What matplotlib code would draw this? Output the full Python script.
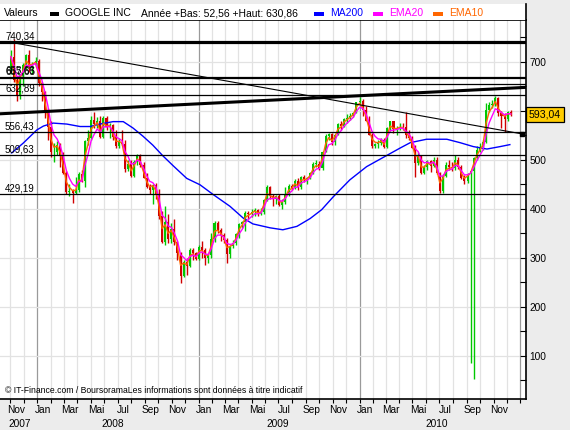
import numpy as np
import pandas as pd
import matplotlib
matplotlib.use("Agg")
import matplotlib.pyplot as plt
import matplotlib.dates as mdates
import matplotlib.transforms as mtrans
from matplotlib.patches import Rectangle
from matplotlib.lines import Line2D

plt.rcParams['font.family'] = ['Liberation Sans', 'DejaVu Sans']

# ---------------- data (weekly bars) ----------------
first_week = "2007-11-02"
opens = [680, 711, 664, 633, 676, 693, 714, 689, 696, 702, 657, 638, 600, 566, 515, 516, 530, 507, 472, 434,
         437, 433, 438, 471, 457, 538, 545, 582, 573, 580, 546, 585, 566, 571, 546, 528, 537, 533, 482, 491,
         467, 495, 510, 490, 463, 444, 438, 449, 431, 386, 332, 372, 339, 359, 331, 310, 262, 292, 283, 315,
         310, 298, 321, 315, 300, 305, 338, 371, 357, 346, 337, 308, 324, 330, 348, 369, 372, 392, 389, 393,
         398, 390, 393, 418, 444, 425, 420, 425, 408, 414, 430, 446, 443, 457, 444, 465, 460, 462, 472, 491,
         492, 484, 516, 549, 553, 536, 551, 573, 569, 584, 585, 590, 596, 618, 620, 602, 580, 551, 529, 532,
         534, 541, 527, 565, 579, 562, 563, 568, 566, 550, 544, 525, 493, 507, 472, 485, 498, 488, 500, 472,
         436, 467, 490, 485, 484, 500, 486, 462, 456, 470, 477, 503, 520, 526, 537, 601, 612, 613, 626, 596,
         590, 584, 598]
highs = [725, 747, 668, 676, 697, 716, 724, 700, 710, 705, 660, 640, 605, 580, 535, 538, 535, 515, 478, 450,
         440, 465, 475, 480, 540, 560, 590, 598, 588, 590, 590, 590, 575, 574, 560, 545, 560, 540, 500, 500,
         500, 512, 512, 495, 472, 450, 450, 452, 440, 395, 405, 390, 370, 380, 335, 312, 295, 300, 320, 320,
         312, 325, 335, 320, 310, 350, 375, 375, 360, 350, 340, 325, 336, 350, 370, 375, 395, 395, 400, 402,
         400, 402, 420, 449, 447, 430, 428, 430, 420, 445, 450, 450, 460, 462, 466, 468, 465, 476, 495, 500,
         498, 518, 552, 555, 555, 552, 576, 580, 585, 593, 595, 598, 618, 629, 625, 610, 590, 555, 535, 541,
         545, 545, 566, 580, 580, 570, 575, 575, 597, 560, 548, 530, 515, 510, 490, 500, 500, 505, 505, 475,
         470, 495, 500, 495, 510, 505, 490, 468, 472, 478, 505, 528, 535, 540, 617, 618, 622, 631, 628, 600,
         596, 600, 602]
lows = [675, 660, 620, 625, 650, 685, 680, 675, 690, 650, 620, 585, 540, 505, 495, 510, 485, 470, 430, 425,
        412, 430, 435, 455, 445, 530, 540, 565, 565, 545, 545, 560, 545, 540, 525, 525, 530, 475, 478, 465,
        465, 490, 485, 462, 442, 430, 410, 420, 380, 330, 325, 330, 330, 325, 295, 248, 260, 265, 280, 295,
        295, 296, 300, 285, 290, 300, 333, 350, 335, 330, 290, 300, 320, 325, 340, 360, 355, 380, 383, 385,
        385, 387, 390, 415, 420, 405, 410, 405, 400, 410, 425, 438, 440, 438, 440, 455, 450, 460, 470, 485,
        480, 480, 515, 540, 530, 530, 550, 560, 568, 575, 582, 588, 596, 615, 590, 580, 550, 525, 525, 525,
        530, 525, 525, 558, 555, 550, 560, 560, 545, 540, 525, 465, 490, 470, 470, 480, 475, 485, 470, 433,
        433, 465, 480, 478, 480, 482, 460, 450, 453, 84, 53, 500, 515, 520, 535, 598, 605, 610, 590, 565,
        557, 580, 590]
closes = [711, 664, 633, 676, 693, 714, 689, 696, 702, 657, 638, 600, 566, 515, 516, 530, 507, 472, 434, 437,
          433, 438, 471, 457, 538, 545, 582, 573, 580, 546, 585, 566, 571, 546, 528, 537, 533, 482, 491, 467,
          495, 510, 490, 463, 444, 438, 449, 431, 386, 332, 372, 339, 359, 331, 310, 262, 292, 283, 315, 310,
          298, 321, 315, 300, 305, 338, 371, 357, 346, 337, 308, 324, 330, 348, 369, 372, 392, 389, 393, 398,
          390, 393, 418, 444, 425, 420, 425, 408, 414, 430, 446, 443, 457, 444, 465, 460, 462, 472, 491, 492,
          484, 516, 549, 553, 536, 551, 573, 569, 584, 585, 590, 596, 618, 620, 602, 580, 551, 529, 532, 534,
          541, 527, 565, 579, 562, 563, 568, 566, 550, 544, 525, 493, 507, 472, 485, 498, 488, 500, 472, 436,
          467, 490, 485, 484, 500, 486, 462, 456, 470, 477, 503, 520, 526, 537, 601, 612, 613, 626, 596, 590,
          584, 598, 593.04]

ma200_dates = ["2007-11-04", "2007-11-30", "2007-12-31", "2008-01-15", "2008-02-06", "2008-03-08",
               "2008-04-07", "2008-04-30", "2008-05-22", "2008-06-21", "2008-07-14", "2008-08-05",
               "2008-08-28", "2008-09-19", "2008-10-12", "2008-11-04", "2008-12-05", "2009-01-04",
               "2009-02-03", "2009-03-13", "2009-04-12", "2009-05-04", "2009-06-12", "2009-07-11",
               "2009-08-12", "2009-09-11", "2009-10-07", "2009-11-03", "2009-12-10", "2010-01-17",
               "2010-02-24", "2010-04-03", "2010-04-26", "2010-06-02", "2010-07-18", "2010-08-17",
               "2010-09-16", "2010-10-17", "2010-11-16", "2010-12-08"]
ma200_values = [514, 534, 561, 569, 575, 573, 568, 568, 573, 578, 578, 565, 548, 530, 508, 488, 462, 449,
                429, 405, 381, 369, 361, 357, 364, 380, 398, 425, 459, 486, 505, 524, 535, 542, 542, 535,
                527, 522, 527, 531]

level_values = [740.34, 667.6, 655.6, 632.89, 556.43, 509.63, 429.19]
level_labels = ["740,34", "667,65", "655,63", "632,89", "556,43", "509,63", "429,19"]
level_widths = [2.3, 1.6, 0.9, 0.9, 0.9, 0.9, 0.9]

trend_up_dates = ["2007-10-08", "2011-01-13"]
trend_up_values = [594, 648]
trend_down_dates = ["2007-11-02", "2011-01-04"]
trend_down_values = [740, 553]

y_ticks = [100, 200, 300, 400, 500, 600, 700]
y_tick_labels = ["100", "200", "300", "400", "500", "", "700"]   # 600 hidden behind the price box
month_names = ["Nov", "Jan", "Mar", "Mai", "Jul", "Sep"]
year_labels = ["2007", "2008", "2009", "2010"]
year_label_dates = ["2007-11-22", "2008-06-21", "2009-06-30", "2010-06-26"]

# ---------------- figure ----------------
W, H = 570, 430
fig = plt.figure(figsize=(W / 100, H / 100), dpi=100, facecolor='#ECECEC')

def fx(px):
    return px / W

def fy(py):
    return 1 - py / H

top_px, bot_px, right_px = 19.5, 398.5, 526
ax = fig.add_axes([0, fy(bot_px), right_px / W, (bot_px - top_px) / H])
ax.set_facecolor('white')

# white legend strip
fig.patches.append(Rectangle((0, fy(top_px)), right_px / W, (top_px - 3.5) / H,
                             transform=fig.transFigure, facecolor='white', edgecolor='none', zorder=0))
fig.lines.append(Line2D([fx(right_px), fx(right_px)], [fy(4), fy(top_px)],
                        transform=fig.transFigure, color='black', lw=1.2))

dates = pd.date_range(first_week, periods=len(closes), freq='7D')
xd = mdates.date2num(dates)
o = np.array(opens, float); h = np.array(highs, float)
l = np.array(lows, float); c = np.array(closes, float)

ax.set_xlim(mdates.date2num(pd.Timestamp("2007-10-08 10:00")),
            mdates.date2num(pd.Timestamp("2011-01-13 14:00")))
ax.set_ylim(12.2, 786.7)

# grid
month_starts = pd.date_range("2007-11-01", "2011-01-01", freq='MS')
for m in month_starts:
    col = '#9A9A9A' if m.month == 1 else '#E2E2E2'
    ax.axvline(mdates.date2num(m), color=col, lw=0.9, zorder=0)
for v in y_ticks:
    ax.axhline(v, color='#E2E2E2', lw=0.9, zorder=0)

# candles
up = c >= o
cols = np.where(up, '#00C800', '#D00000')
ax.vlines(xd, l, h, colors=cols, lw=1.0, zorder=2)
body_h = np.maximum(np.abs(c - o), 1.5)
ax.bar(xd, body_h, bottom=np.minimum(o, c), width=4.6, color=cols, linewidth=0, zorder=2)

# indicators
ma_x = mdates.date2num(pd.to_datetime(ma200_dates))
ax.plot(ma_x, ma200_values, color='#0000FF', lw=1.0, zorder=3)
ema10 = pd.Series(c).ewm(span=2.2, adjust=False).mean()
ema20 = pd.Series(c).ewm(span=4.1, adjust=False).mean()
ax.plot(xd, ema10, color='#FF6600', lw=1.0, zorder=3)
ax.plot(xd, ema20, color='#FF00FF', lw=1.0, zorder=3)

# support / resistance levels
lab_trans = mtrans.offset_copy(ax.get_yaxis_transform(), fig=fig, y=2.2, units='points')
for v, lw in zip(level_values, level_widths):
    ax.axhline(v, color='black', lw=lw, zorder=4)
for v, lab in zip(level_values, level_labels):
    yv = v
    if lab == "655,63":
        yv = level_values[1] + 1.5
    ax.text(5 / right_px, yv, lab, transform=lab_trans, fontsize=7.0, ha='left', va='baseline', zorder=5)

# trend lines
ax.plot(mdates.date2num(pd.to_datetime(trend_up_dates)), trend_up_values, color='black', lw=2.2, zorder=4)
ax.plot(mdates.date2num(pd.to_datetime(trend_down_dates)), trend_down_values, color='black', lw=0.8, zorder=4)
ax.plot(mdates.date2num(pd.to_datetime(trend_down_dates[-1:])), trend_down_values[-1:], 's',
        color='black', ms=2.2, zorder=4)

# spines
for s in ['top', 'right', 'bottom']:
    ax.spines[s].set_color('black')
    ax.spines[s].set_linewidth(1.2)
ax.spines['left'].set_visible(False)

# y axis (right)
ax.yaxis.tick_right()
ax.set_yticks(y_ticks)
ax.set_yticklabels(y_tick_labels)
ax.set_yticks(list(range(50, 800, 50)), minor=True)
ax.tick_params(axis='y', which='both', direction='in', length=4, width=0.8, pad=2.5,
               labelsize=7.3, left=False, right=True)

# x axis
ax.set_xticks(mdates.date2num(month_starts))
ax.set_xticklabels([])
lab_months = pd.date_range("2007-11-01", "2010-11-01", freq='2MS') + pd.Timedelta(days=13)
ax.set_xticks(mdates.date2num(lab_months), minor=True)
ax.set_xticklabels([month_names[i % 6] for i in range(len(lab_months))], minor=True)
ax.tick_params(axis='x', which='major', direction='out', length=3, width=0.8, labelsize=7.3)
ax.tick_params(axis='x', which='minor', length=0, pad=5, labelsize=7.3)

xt = mtrans.blended_transform_factory(ax.transData, fig.transFigure)
for lab, d in zip(year_labels, year_label_dates):
    fig.text(mdates.date2num(pd.Timestamp(d)), fy(424), lab, transform=xt,
             ha='center', va='center', fontsize=7.3)

# legend strip
ly = fy(13.5)
fig.text(fx(4), ly, "Valeurs", fontsize=7.5, va='center', ha='left')
fig.patches.append(Rectangle((fx(50), fy(15.5)), 9 / W, 4 / H, transform=fig.transFigure,
                             facecolor='black', edgecolor='none'))
fig.text(fx(65), ly, "GOOGLE INC", fontsize=7.5, va='center', ha='left')
fig.text(fx(141), ly, "Année +Bas: 52,56 +Haut: 630,86", fontsize=7.5, va='center', ha='left')
for x0, col, lab in [(314, '#0000FF', 'MA200'), (373, '#FF00FF', 'EMA20'), (433, '#FF6600', 'EMA10')]:
    fig.patches.append(Rectangle((fx(x0), fy(15.5)), 10 / W, 4 / H, transform=fig.transFigure,
                                 facecolor=col, edgecolor='none'))
    fig.text(fx(x0 + 16), ly, lab, fontsize=7.5, va='center', ha='left', color=col)

# footer
fig.text(fx(5), fy(390.5), "© IT-Finance.com / BoursoramaLes informations sont données à titre indicatif",
         fontsize=6.2, va='center', ha='left')

# last price box
pt = mtrans.blended_transform_factory(fig.transFigure, ax.transData)
fig.text(fx(545), closes[-1], "593,04", transform=pt, fontsize=7.6, ha='center', va='center',
         bbox=dict(boxstyle='square,pad=0.25', facecolor='#FFCC00', edgecolor='black', lw=0.9))

fig.savefig("out.png", dpi=100, facecolor=fig.get_facecolor())
